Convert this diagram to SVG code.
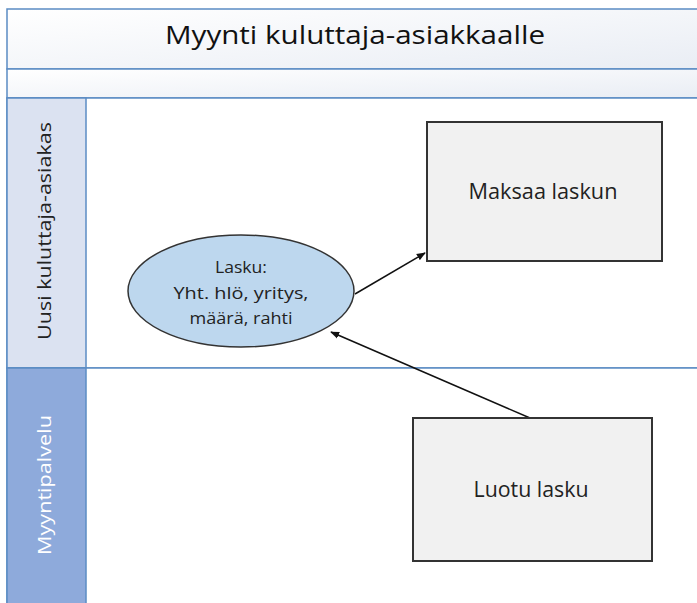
<svg xmlns="http://www.w3.org/2000/svg" width="697" height="603" viewBox="0 0 697 603">
  <defs>
    <linearGradient id="band" x1="0" y1="0" x2="1" y2="1">
      <stop offset="0" stop-color="#ffffff"/>
      <stop offset="1" stop-color="#e9edf4"/>
    </linearGradient>
    <marker id="arrow" viewBox="0 0 10 10" refX="9" refY="5" markerWidth="9" markerHeight="9" orient="auto" markerUnits="userSpaceOnUse">
      <path d="M0,1 L10,5 L0,9 Z" fill="#111"/>
    </marker>
    <style>
      .frame { stroke: #5b8cc4; stroke-width: 1.5; }
      .txt { font-family: "Open Sans", "Liberation Sans", sans-serif; fill: #222; }
      .box { fill: #f1f1f1; stroke: #333; stroke-width: 2; }
      .conn { stroke: #111; stroke-width: 1.5; fill: none; marker-end: url(#arrow); }
    </style>
  </defs>
  <rect width="697" height="603" fill="#ffffff"/>

  <!-- pool frame -->
  <g id="pool">
    <rect x="7" y="9" width="700" height="60" fill="url(#band)" class="frame"/>
    <rect x="7" y="69" width="700" height="29" fill="url(#band)" class="frame"/>
    <text x="355" y="44" text-anchor="middle" class="txt" font-size="25" textLength="380" lengthAdjust="spacingAndGlyphs" style="fill:#111">Myynti kuluttaja-asiakkaalle</text>
  </g>

  <g id="lane-asiakas">
    <rect x="7" y="98" width="700" height="270" fill="#ffffff" class="frame"/>
    <rect x="7" y="98" width="79" height="270" fill="#dbe2f1" class="frame"/>
    <text transform="translate(51,231) rotate(-90)" text-anchor="middle" class="txt" font-size="19" textLength="218" lengthAdjust="spacingAndGlyphs">Uusi kuluttaja-asiakas</text>
  </g>

  <g id="lane-myyntipalvelu">
    <rect x="7" y="368" width="700" height="245" fill="#ffffff" class="frame"/>
    <rect x="7" y="368" width="79" height="245" fill="#8eaadb" class="frame"/>
    <text transform="translate(51,485) rotate(-90)" text-anchor="middle" class="txt" font-size="19" textLength="140" lengthAdjust="spacingAndGlyphs" style="fill:#ffffff">Myyntipalvelu</text>
  </g>

  <!-- connectors -->
  <g id="connectors">
    <line x1="355" y1="294" x2="425" y2="253" class="conn"/>
    <line x1="530" y1="418" x2="331" y2="332" class="conn"/>
  </g>

  <g id="node-lasku">
    <ellipse cx="241" cy="291" rx="113" ry="56" fill="#bdd7ee" stroke="#333" stroke-width="1.5"/>
    <text x="241" y="273" text-anchor="middle" class="txt" font-size="17" textLength="52" lengthAdjust="spacingAndGlyphs">Lasku:</text>
    <text x="241" y="299" text-anchor="middle" class="txt" font-size="17" textLength="135" lengthAdjust="spacingAndGlyphs">Yht. hlö, yritys,</text>
    <text x="241" y="324" text-anchor="middle" class="txt" font-size="17" textLength="103" lengthAdjust="spacingAndGlyphs">määrä, rahti</text>
  </g>

  <g id="node-maksaa">
    <rect x="427" y="122" width="235" height="139" class="box"/>
    <text x="543" y="199" text-anchor="middle" class="txt" font-size="21" textLength="149" lengthAdjust="spacingAndGlyphs">Maksaa laskun</text>
  </g>

  <g id="node-luotu">
    <rect x="413" y="418" width="239" height="143" class="box"/>
    <text x="531" y="497" text-anchor="middle" class="txt" font-size="21" textLength="115" lengthAdjust="spacingAndGlyphs">Luotu lasku</text>
  </g>
</svg>
